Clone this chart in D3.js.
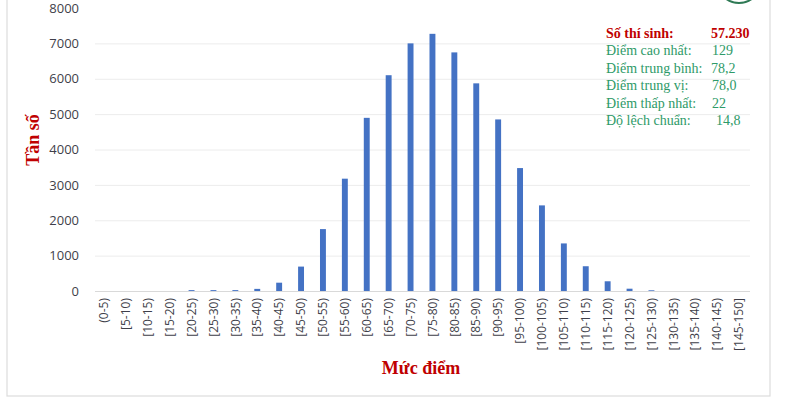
<!DOCTYPE html>
<html>
<head>
<meta charset="utf-8">
<script src="https://cdn.jsdelivr.net/npm/d3@7"></script>
<style>
  body { margin: 0; background: #fff; }
  svg { display: block; }
</style>
</head>
<body>
<div class="chart"></div>
<script>
// khoảng điểm
const categories = ['(0-5)', '[5-10)', '[10-15)', '[15-20)', '[20-25)', '[25-30)', '[30-35)', '[35-40)',
    '[40-45)', '[45-50)', '[50-55)', '[55-60)', '[60-65)', '[65-70)', '[70-75)', '[75-80)',
    '[80-85)', '[85-90)', '[90-95)', '[95-100)', '[100-105)', '[105-110)', '[110-115)', '[115-120)',
    '[120-125)', '[125-130)', '[130-135)', '[135-140)', '[140-145)', '[145-150]'];
// tần số
const counts = [0, 0, 0, 0, 25, 25, 25, 60,
    235, 690, 1750, 3175, 4895, 6100, 7000, 7270,
    6745, 5870, 4850, 3475, 2420, 1345, 700, 275,
    65, 20, 0, 0, 0, 0];
const y_ticks = [0, 1000, 2000, 3000, 4000, 5000, 6000, 7000, 8000];

const stat_labels = ['Điểm cao nhất:', 'Điểm trung bình:', 'Điểm trung vị:', 'Điểm thấp nhất:', 'Độ lệch chuẩn:'];
const stat_values = ['129', '78,2', '78,0', '22', '14,8'];
const total_label = 'Số thí sinh:';
const total_value = '57.230';

const data = categories.map((c, i) => ({cat: c, n: counts[i]}));

const svg_width = 800, svg_height = 420;
const svg = d3.select('.chart').append('svg')
    .attr('width', svg_width).attr('height', svg_height);

// khung
svg.append('rect')
    .attr('x', 7).attr('y', -5).attr('width', 763).attr('height', 401)
    .attr('fill', 'none').attr('stroke', '#dcdcdc').attr('stroke-width', 1.2);

// logo tròn bị cắt
svg.append('circle')
    .attr('cx', 739).attr('cy', -19).attr('r', 22)
    .attr('fill', 'none').attr('stroke', '#2f7a55').attr('stroke-width', 2);

const x_scale = d3.scaleBand()
    .domain(categories)
    .range([93, 750])
    .paddingInner(0.73)
    .paddingOuter(0.365);

const y_scale = d3.scaleLinear([0, 8000], [291, 8]);

// lưới
svg.append('g').selectAll('line')
    .data(y_ticks.filter(t => t > 0 && t < 8000))
    .join('line')
    .attr('x1', 95).attr('x2', 750)
    .attr('y1', d => y_scale(d) + 0.5).attr('y2', d => y_scale(d) + 0.5)
    .attr('stroke', '#ececec').attr('stroke-width', 1);

// trục y
const y_axis = d3.axisLeft(y_scale).tickValues(y_ticks).tickFormat(d3.format('d')).tickSize(0).tickPadding(0);
const y_axis_draw = svg.append('g').attr('transform', 'translate(79,0)').call(y_axis);
y_axis_draw.select('.domain').remove();
y_axis_draw.selectAll('text')
    .style('font-family', '"Open Sans", sans-serif')
    .style('font-size', '13px')
    .style('fill', '#3f3f4a');

// cột
svg.append('g').selectAll('.bar')
    .data(data)
    .join('rect')
    .attr('class', 'bar')
    .attr('x', d => x_scale(d.cat))
    .attr('width', x_scale.bandwidth())
    .attr('y', d => y_scale(d.n))
    .attr('height', d => y_scale(0) - y_scale(d.n))
    .attr('fill', '#4472c4');

// trục x
const x_axis = d3.axisBottom(x_scale).tickSize(0).tickSizeOuter(0);
const x_axis_draw = svg.append('g').attr('transform', `translate(0,${y_scale(0)})`).call(x_axis);
x_axis_draw.select('.domain')
    .attr('d', 'M95,0.5H750')
    .attr('stroke', '#d9d9d9');
x_axis_draw.selectAll('text')
    .attr('transform', 'rotate(-90)')
    .attr('text-anchor', 'end')
    .attr('x', -7).attr('y', 0).attr('dy', '0.35em')
    .style('font-family', '"Open Sans", sans-serif')
    .style('font-size', '12px')
    .style('fill', '#3f3f4a');

// tiêu đề trục
svg.append('text')
    .attr('transform', 'translate(39,140) rotate(-90)')
    .attr('text-anchor', 'middle')
    .style('font-family', '"Liberation Serif", serif')
    .style('font-weight', 'bold')
    .style('font-size', '18px')
    .style('fill', '#c00000')
    .text('Tần số');

svg.append('text')
    .attr('x', 421).attr('y', 374)
    .attr('text-anchor', 'middle')
    .style('font-family', '"Liberation Serif", serif')
    .style('font-weight', 'bold')
    .style('font-size', '18px')
    .style('fill', '#c00000')
    .text('Mức điểm');

// bảng thống kê
const stats = svg.append('g').style('font-family', '"Liberation Serif", serif').style('font-size', '14px');
stats.append('text')
    .attr('x', 606).attr('y', 38)
    .style('font-weight', 'bold').style('fill', '#c00000')
    .text(total_label);
stats.append('text')
    .attr('x', 711).attr('y', 38)
    .style('font-weight', 'bold').style('fill', '#c00000')
    .text(total_value);
const value_x = [712, 711, 712, 712, 716];
stat_labels.forEach((t, i) => {
    stats.append('text')
        .attr('x', 606).attr('y', 55 + i * 17.6)
        .style('fill', '#2e9a68')
        .text(t);
    stats.append('text')
        .attr('x', value_x[i]).attr('y', 55 + i * 17.6)
        .style('fill', '#2e9a68')
        .text(stat_values[i]);
});
</script>
</body>
</html>
